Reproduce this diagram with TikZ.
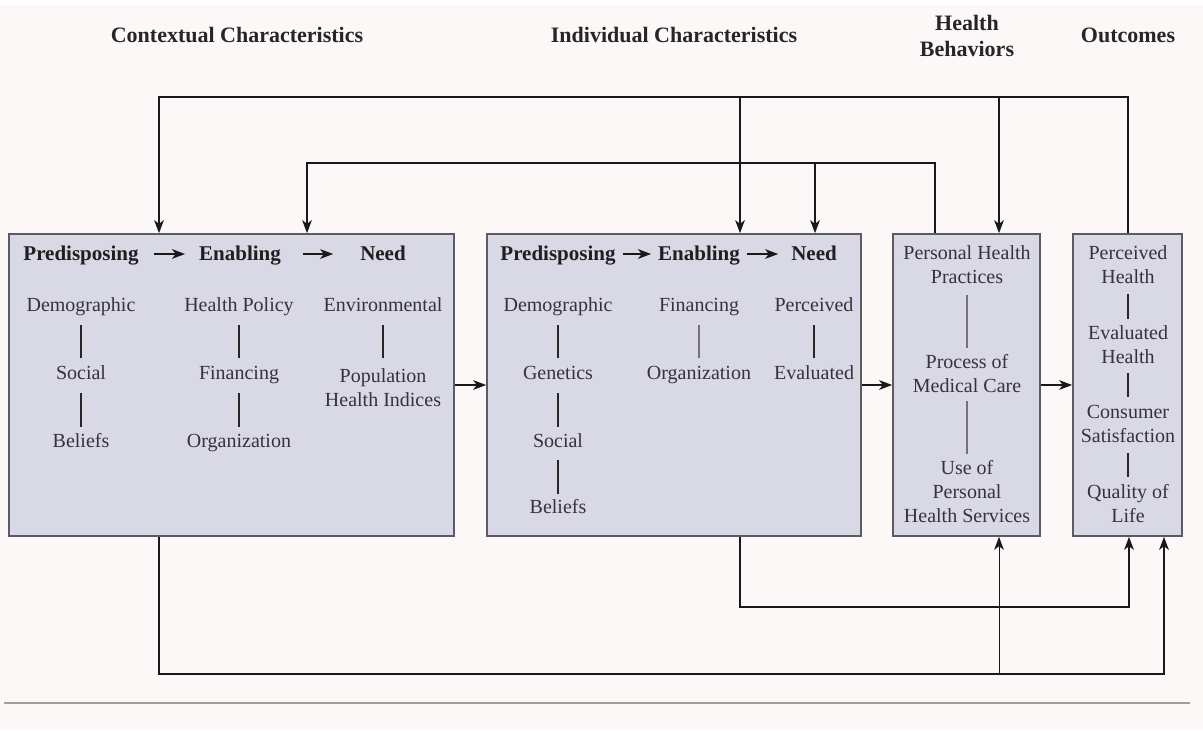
\documentclass[tikz,border=0pt]{standalone}
\usepackage{tikz}
\usetikzlibrary{positioning,arrows,arrows.meta}
\usepackage{fontspec}
\setmainfont{Liberation Serif}
\definecolor{paper}{HTML}{FCF8F7}
\definecolor{panelfill}{HTML}{D9D8E5}
\definecolor{panelline}{HTML}{5C5B63}
\definecolor{ink}{HTML}{343438}
\definecolor{rulegray}{HTML}{A39D9D}

\begin{document}
\begin{tikzpicture}[>={Stealth[length=6.5pt,width=4.8pt,inset=1.8pt]}, x=0.5pt, y=-0.5pt,
		panel/.style={draw=panelline, line width=0.8pt, fill=panelfill, inner sep=0pt,%
			minimum height=151pt},
		title/.style={font=\fontsize{11}{13}\selectfont\bfseries, text=black!85, align=center},
		head/.style={font=\fontsize{10.5}{12}\selectfont\bfseries, text=black!88,%
			text height=8pt, text depth=2pt},
		item/.style={font=\fontsize{10}{12}\selectfont, text=ink, align=center},
		word/.style={item, text height=7.5pt, text depth=2pt},
		feed/.style={->, line width=1pt, black!90},
		tie/.style={line width=0.9pt, black!85},
		faint/.style={line width=0.6pt, black!55}]
		% page
		\fill[paper] (0,0) rectangle (1203,730);
		\fill[white] (0,0) rectangle (1203,5);
		\useasboundingbox (0,0) rectangle (1203,730);
		
		% column titles
		\node[title] (CT) at (237,35) {Contextual Characteristics};
		\node[title] (IT) at (674,35) {Individual Characteristics};
		\node[title] (HT) at (967,36) {Health\\Behaviors};
		\node[title] (OT) at (1128,35) {Outcomes};
		
		% the four panels
		\node[panel, minimum width=222.5pt] (CC) at (231.5,385) {};
		\node[panel, minimum width=187pt] (IC) at (674,385) {};
		\node[panel, minimum width=73.5pt] (HB) at (966.5,385) {};
		\node[panel, minimum width=54.5pt] (OC) at (1127.5,385) {};
		
		% contextual characteristics
		\node[head] (CP) at (81,254) {Predisposing};
		\node[head] (CE) at (240,254) {Enabling};
		\node[head] (CN) at (383,254) {Need};
		\draw[feed, shorten <=4pt, shorten >=3.5pt] (CP) -- (CE);
		\draw[feed, shorten <=7.5pt, shorten >=10pt] (CE) -- (CN);
		\node[word] (CP1) at (81,306) {Demographic};
		\node[word] (CP2) at (81,374) {Social};
		\node[word] (CP3) at (81,442) {Beliefs};
		\node[word] (CE1) at (239,306) {Health Policy};
		\node[word] (CE2) at (239,374) {Financing};
		\node[word] (CE3) at (239,442) {Organization};
		\node[word] (CN1) at (383,306) {Environmental};
		\node[item] (CN2) at (383,387.5) {Population\\Health Indices};
		\draw[tie] (CP1) ++(0,19) -- ++(0,33);
		\draw[tie] (CP2) ++(0,19) -- ++(0,34);
		\draw[tie] (CE1) ++(0,19) -- ++(0,33);
		\draw[tie] (CE2) ++(0,19) -- ++(0,34);
		\draw[tie] (CN1) ++(0,19) -- ++(0,33);
		
		% individual characteristics
		\node[head] (IP) at (558,254) {Predisposing};
		\node[head] (IE) at (699,254) {Enabling};
		\node[head] (IN) at (814,254) {Need};
		\draw[feed] (IP) -- (IE);
		\draw[feed, shorten >=3pt] (IE) -- (IN);
		\node[word] (IP1) at (558,306) {Demographic};
		\node[word] (IP2) at (558,374) {Genetics};
		\node[word] (IP3) at (558,442) {Social};
		\node[word] (IP4) at (558,508) {Beliefs};
		\node[word] (IE1) at (699,306) {Financing};
		\node[word] (IE2) at (699,374) {Organization};
		\node[word] (IN1) at (814,306) {Perceived};
		\node[word] (IN2) at (814,374) {Evaluated};
		\draw[tie] (IP1) ++(0,19) -- ++(0,33);
		\draw[tie] (IP2) ++(0,19) -- ++(0,34);
		\draw[tie] (IP3) ++(0,18) -- ++(0,34);
		\draw[faint, line width=0.8pt] (IE1) ++(0,19) -- ++(0,33);
		\draw[tie] (IN1) ++(0,19) -- ++(0,33);
		
		% health behaviors
		\node[item] (HB1) at (967,265) {Personal Health\\Practices};
		\node[item] (HB2) at (967,373.5) {Process of\\Medical Care};
		\node[item] (HB3) at (967,491.5) {Use of\\Personal\\Health Services};
		\draw[faint] (HB1) ++(0,30) -- ++(0,53);
		\draw[faint] (HB2) ++(0,27.5) -- ++(0,53);
		
		% outcomes
		\node[item] (OC1) at (1128,265) {Perceived\\Health};
		\node[item] (OC2) at (1128,344.5) {Evaluated\\Health};
		\node[item] (OC3) at (1128,423.5) {Consumer\\Satisfaction};
		\node[item] (OC4) at (1128,504) {Quality of\\Life};
		\draw[tie] (OC1) ++(0,29) -- ++(0,25);
		\draw[tie] (OC2) ++(0,28.5) -- ++(0,24);
		\draw[tie] (OC3) ++(0,29.5) -- ++(0,24);
		
		% forward flow
		\draw[feed] (CC) -- (IC);
		\draw[feed] (IC) -- (HB);
		\draw[feed] (HB) -- (OC);
		
		% rails and drop points of the loops
		\coordinate (top) at (0,97);
		\coordinate (mid) at (0,163);
		\coordinate (low) at (0,607);
		\coordinate (base) at (0,674);
		\coordinate (xa) at (159,0);
		\coordinate (xb) at (307,0);
		\coordinate (xc) at (740,0);
		\coordinate (xd) at (815,0);
		\coordinate (xe) at (935,0);
		\coordinate (xf) at (999,0);
		\coordinate (xg) at (1129,0);
		\coordinate (xh) at (1164,0);
		
		% feedback from outcomes
		\draw[feed] (OC.north) -- (OC.north |- top) -- (xa |- top) -- (CC.north -| xa);
		\draw[feed] (xc |- top) -- (IC.north -| xc);
		\draw[feed] (xf |- top) -- (HB.north -| xf);
		% feedback from health behaviors
		\draw[feed] (HB.north -| xe) -- (xe |- mid) -- (xb |- mid) -- (CC.north -| xb);
		\draw[feed] (xd |- mid) -- (IC.north -| xd);
		% direct paths to outcomes
		\draw[feed] (IC.south -| xc) -- (xc |- low) -- (xg |- low) -- (OC.south -| xg);
		\draw[feed] (CC.south -| xa) -- (xa |- base) -- (xh |- base) -- (OC.south -| xh);
		\draw[feed, line width=0.5pt] (xf |- base) -- (HB.south -| xf);
		
		\draw[rulegray, line width=1pt] (4,703) -- (1190,703);
	\end{tikzpicture}
\end{document}
